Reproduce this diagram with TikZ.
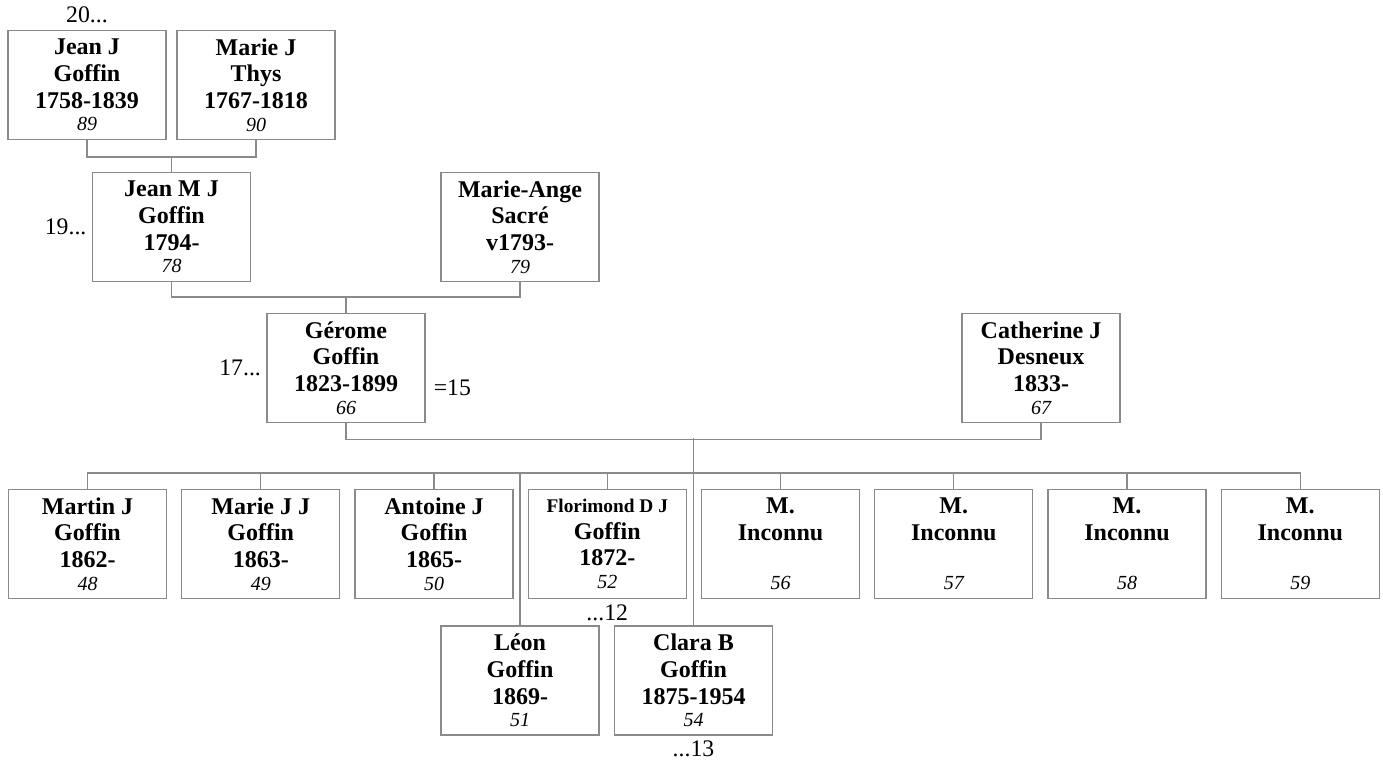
\documentclass[tikz,border=0pt]{standalone}
\usepackage{fontspec}
\setmainfont{Liberation Serif}
\usepackage{tikz}
\usetikzlibrary{positioning}

\definecolor{traitgris}{RGB}{138,138,138}
\newcommand{\numfiche}{\normalfont\itshape\fontsize{15}{17}\selectfont}
\newcommand{\fiche}[4]{#1\\#2\\#3\\[-3pt]{\numfiche #4}}

\begin{document}
\begin{tikzpicture}[x=0.75pt, y=-0.75pt,
    pers/.style = {draw=traitgris, line width=0.8pt, minimum width=118.5pt,
                   minimum height=81.75pt, inner sep=0pt, align=center,
                   font=\bfseries\fontsize{18}{20}\selectfont},
    lbl/.style = {inner sep=0pt, font=\fontsize{17.8}{20}\selectfont},
    lien/.style = {draw=traitgris, line width=0.8pt}]
  \useasboundingbox (0,0) rectangle (1383,762);

  % generation des arriere-grands-parents
  \node[pers] (jeanj)  at (87,85)  {\fiche{Jean J}{Goffin}{1758-1839}{89}};
  \node[pers] (mariej) at (256,85) {\fiche{Marie J}{Thys}{1767-1818}{90}};

  % grands-parents
  \node[pers] (jeanmj) at (171.5,227) {\fiche{Jean M J}{Goffin}{1794-}{78}};
  \node[pers] (mange)  at (520,227)   {\fiche{Marie-Ange}{Sacré}{v1793-}{79}};

  % parents
  \node[pers] (gerome) at (346,368)  {\fiche{Gérome}{Goffin}{1823-1899}{66}};
  \node[pers] (cath)   at (1041,368) {\fiche{Catherine J}{Desneux}{1833-}{67}};

  % enfants
  \node[pers] (ch1) at (87.5,544)   {\fiche{Martin J}{Goffin}{1862-}{48}};
  \node[pers] (ch2) at (260.75,544) {\fiche{Marie J J}{Goffin}{1863-}{49}};
  \node[pers] (ch3) at (434,544)    {\fiche{Antoine J}{Goffin}{1865-}{50}};
  \node[pers] (ch4) at (607.25,544) {\fiche{{\fontsize{14.5}{16}\selectfont Florimond D J}}{Goffin}{1872-}{52}};
  \node[pers] (ch5) at (780.5,544)  {\fiche{M.}{Inconnu}{\mbox{}}{56}};
  \node[pers] (ch6) at (953.75,544) {\fiche{M.}{Inconnu}{\mbox{}}{57}};
  \node[pers] (ch7) at (1127,544)   {\fiche{M.}{Inconnu}{\mbox{}}{58}};
  \node[pers] (ch8) at (1300.25,544) {\fiche{M.}{Inconnu}{\mbox{}}{59}};
  \node[pers] (leon)  at (520,680.5)   {\fiche{Léon}{Goffin}{1869-}{51}};
  \node[pers] (clara) at (693.5,680.5) {\fiche{Clara B}{Goffin}{1875-1954}{54}};

  % renvois
  \node[lbl, above=5pt of jeanj] (r20) {20...};
  \node[lbl, left=4pt of jeanmj] (r19) {19...};
  \node[lbl, left=4pt of gerome] (r17) {17...};
  \node[lbl, anchor=west] (r15) at ([xshift=6pt,yshift=-15pt]gerome.east) {=15};
  \node[lbl, below=4pt of ch4] (r12) {...12};
  \node[lbl, below=3.5pt of clara] (r13) {...13};

  % liens
  \coordinate (bus) at (0,473);
  \draw[lien] (jeanj.south) -- ++(0,17) -| (mariej.south);
  \draw[lien] (jeanmj.north) -- ++(0,-16);
  \draw[lien] (jeanmj.south) -- ++(0,15) -| (mange.south);
  \draw[lien] (gerome.north) -- ++(0,-16);
  \draw[lien] (gerome.south) -- ++(0,16) -| (cath.south);
  \draw[lien] (clara.north) -- ++(0,-187);
  \draw[lien] (ch1.north) -- ++(0,-16) -| (ch8.north);
  \foreach \c in {ch2,ch3,ch4,ch5,ch6,ch7}
    \draw[lien] (\c.north) -- ++(0,-16);
  \draw[lien] (leon.north) -- (leon.north |- bus);
\end{tikzpicture}
\end{document}
